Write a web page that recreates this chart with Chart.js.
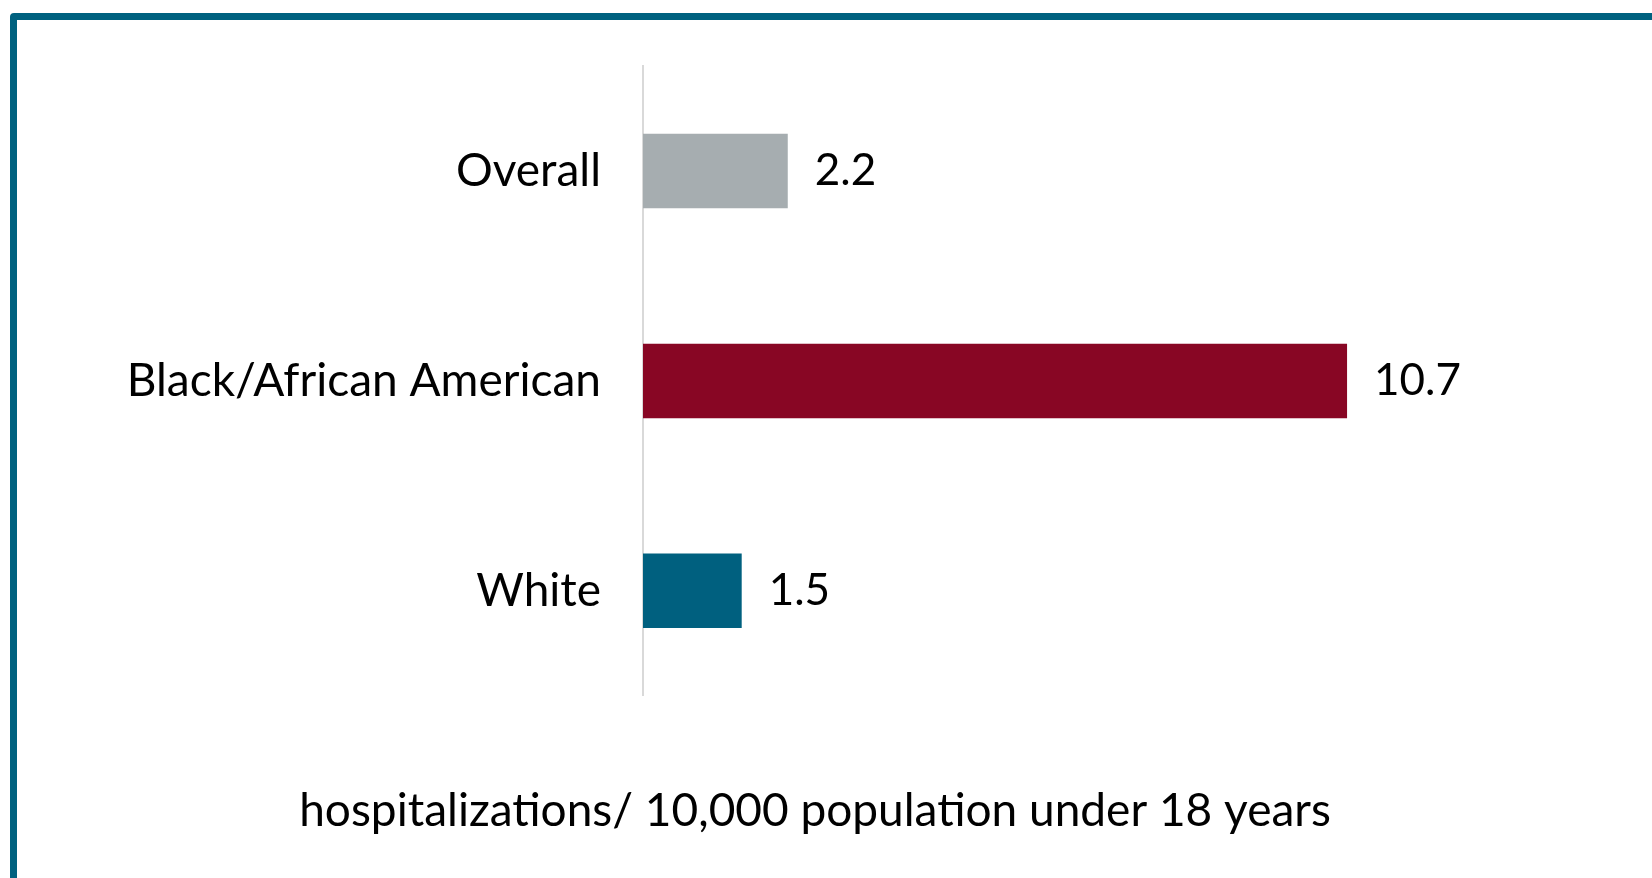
<!DOCTYPE html>
<html>
<head>
<meta charset="utf-8">
<script src="https://cdn.jsdelivr.net/npm/chart.js@4.4.1/dist/chart.umd.min.js"></script>
<style>
  body { margin: 0; background: #fff; overflow: hidden; }
  #frame {
    position: absolute; left: 10px; top: 13px;
    width: 1700px; height: 1000px;
    border: 7px solid #00617f; border-radius: 4px;
  }
  #myChart { position: absolute; left: 0; top: 0; }
</style>
</head>
<body>
<div id="frame"></div>
<canvas id="myChart" width="1632" height="878"></canvas>
<script>
const categories = ["Overall", "Black/African American", "White"];
const rates = [2.2, 10.7, 1.5];
const barColors = ["#a6adb0", "#880624", "#00607f"];
const axisTitle = "hospitalizations/ 10,000 population under 18 years";

const FONT = "Lato, 'Open Sans', sans-serif";

// writes the value to the right of each bar
const valueLabels = {
  id: "valueLabels",
  afterDatasetsDraw(chart) {
    const ctx = chart.ctx;
    const meta = chart.getDatasetMeta(0);
    ctx.save();
    ctx.font = "44px " + FONT;
    ctx.fillStyle = "#000";
    ctx.textAlign = "left";
    ctx.textBaseline = "middle";
    meta.data.forEach((bar, i) => {
      ctx.fillText(rates[i].toFixed(1), bar.x + 27, bar.y);
    });
    ctx.restore();
  }
};

const ctx = document.getElementById("myChart").getContext("2d");
new Chart(ctx, {
  type: "bar",
  data: {
    labels: categories,
    datasets: [{
      data: rates,
      backgroundColor: barColors,
      borderWidth: 0,
      categoryPercentage: 1,
      barPercentage: 0.355
    }]
  },
  options: {
    indexAxis: "y",
    responsive: false,
    animation: false,
    layout: { padding: { top: 66, right: 2, bottom: 39, left: 0 } },
    plugins: {
      legend: { display: false },
      tooltip: { enabled: false },
      title: {
        display: true,
        position: "bottom",
        text: axisTitle,
        color: "#000",
        font: { family: FONT, size: 46, weight: "normal", lineHeight: 1.2 },
        padding: { top: 88, bottom: 0 }
      }
    },
    scales: {
      x: { display: false, min: 0, max: 15 },
      y: {
        grid: { display: false, drawTicks: false },
        border: { display: true, color: "#d9d9d9", width: 2 },
        ticks: {
          color: "#000",
          padding: 42,
          font: { family: FONT, size: 46 }
        },
        afterFit(scale) {
          scale.width = 643;
          scale.paddingTop = 0;
          scale.paddingBottom = 0;
        }
      }
    }
  },
  plugins: [valueLabels]
});
</script>
</body>
</html>
